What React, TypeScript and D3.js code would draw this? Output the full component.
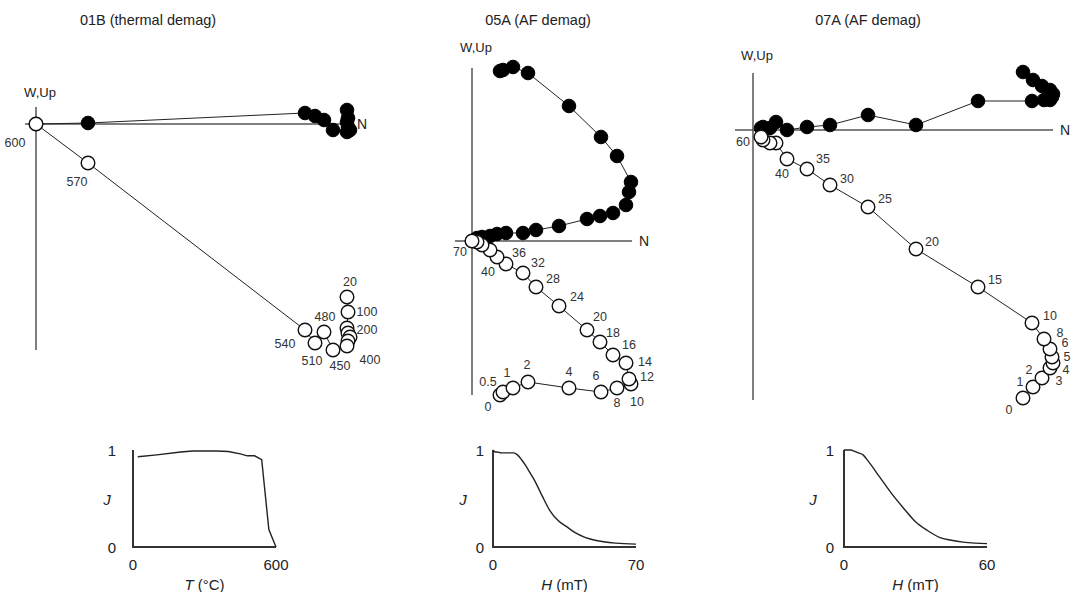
import React, { useEffect, useRef } from 'react';
import * as d3 from 'd3';

// 01B, thermal demagnetisation (°C)
const stepsB = [20, 100, 200, 250, 300, 350, 400, 450, 480, 510, 540, 570, 600];
const northB = [31.1, 31.2, 31.1, 31.2, 31.4, 31.2, 31.1, 29.7, 28.8, 27.9, 26.9, 5.2, 0];
const westB = [1.4, 0.6, 0.2, -0.3, -0.6, -0.7, -0.8, -0.6, 0.4, 0.8, 1.1, 0.1, 0];
const upB = [-17.3, -18.8, -20.4, -20.9, -21.3, -21.7, -22.2, -22.6, -20.8, -21.9, -20.6, -3.9, 0];
const jB = [0.93, 0.95, 0.98, 0.99, 0.99, 0.99, 0.985, 0.96, 0.94, 0.94, 0.9, 0.18, 0];
const shownB = [20, 100, 200, 400, 450, 480, 510, 540, 570, 600];
const nudgeB = [[3, -15], [19, 0], [20, 2], [0, 0], [0, 0], [0, 0], [23, 14], [7, 16], [1, -15], [-3, 18], [-20, 14], [-11, 19], [-21, 19]];

// 05A, AF demagnetisation (mT)
const stepsA = [0, 0.5, 1, 2, 4, 6, 8, 10, 12, 14, 16, 18, 20, 24, 28, 32, 36, 40, 45, 50, 60, 70];
const northA = [2.8, 3.1, 4.1, 5.6, 9.7, 12.9, 14.5, 15.9, 15.7, 15.4, 14.1, 12.8, 11.5, 8.7, 6.4, 5.1, 3.4, 2.5, 1.8, 1.0, 0.5, 0];
const westA = [17.0, 17.1, 17.4, 16.8, 13.5, 10.4, 8.5, 5.9, 4.9, 3.6, 2.8, 2.5, 2.2, 1.5, 1.1, 0.8, 0.8, 0.7, 0.5, 0.4, 0.3, 0];
const upA = [-15.4, -15.1, -14.7, -14.1, -14.7, -15.1, -14.7, -14.3, -13.8, -12.2, -11.4, -10.1, -8.9, -6.5, -4.6, -3.2, -2.3, -1.6, -0.9, -0.4, -0.1, 0];
const jA = [1.0, 0.99, 0.98, 0.98, 0.97, 0.97, 0.97, 0.97, 0.95, 0.9, 0.84, 0.77, 0.7, 0.53, 0.37, 0.27, 0.21, 0.15, 0.1, 0.07, 0.04, 0.03];
const shownA = [0, 0.5, 1, 2, 4, 6, 8, 10, 12, 14, 16, 18, 20, 24, 28, 32, 36, 40, 70];
const nudgeA = [[-12, 12], [-15, -10], [-6, -15], [-1, -17], [0, -16], [-5, -16], [0, 15], [6, 18], [18, -2], [19, -1], [16, -10], [13, -9], [13, -13], [18, -9], [17, -8], [15, -10], [13, -11], [-9, 15], [0, 0], [0, 0], [0, 0], [-12, 11]];

// 07A, AF demagnetisation (mT)
const stepsC = [0, 1, 2, 3, 4, 5, 6, 8, 10, 15, 20, 25, 30, 35, 40, 45, 50, 55, 60];
const northC = [27.0, 28.0, 28.9, 29.7, 30.0, 29.9, 29.7, 29.1, 27.9, 22.5, 16.3, 11.5, 7.7, 5.4, 3.4, 2.3, 1.7, 1.0, 0.8];
const westC = [5.8, 5.0, 4.4, 4.0, 3.6, 3.3, 3.0, 3.0, 2.9, 2.9, 0.5, 1.5, 0.5, 0.3, 0.0, 0.8, 0.2, 0.3, 0.2];
const upC = [-26.8, -25.7, -24.8, -23.8, -23.3, -22.7, -21.9, -20.9, -19.3, -15.7, -11.9, -7.7, -5.5, -3.9, -2.9, -1.3, -1.3, -1.0, -0.7];
const jC = [1.0, 1.0, 1.0, 1.0, 0.99, 0.98, 0.97, 0.95, 0.89, 0.72, 0.55, 0.4, 0.26, 0.17, 0.1, 0.07, 0.05, 0.04, 0.035];
const shownC = [0, 1, 2, 3, 4, 5, 6, 8, 10, 15, 20, 25, 30, 35, 40, 60];
const nudgeC = [[-14, 12], [-13, -5], [-13, -8], [9, 13], [13, 7], [15, 0], [15, -6], [16, -6], [18, -7], [17, -7], [16, -7], [17, -8], [17, -6], [16, -10], [-5, 15], [0, 0], [0, 0], [0, 0], [-18, 5]];

const panels = [
  {
    title: '01B (thermal demag)', titleX: 148,
    ox: 36, oy: 124, axisN: [-1.1, 31.4], axisV: [1.7, -22.6], wUpDy: -10,
    steps: stepsB, north: northB, west: westB, up: upB, j: jB, shown: shownB, nudge: nudgeB,
    jx: [133, 276], jMax: 600, tickDx: -21, jDx: -26, xVar: 'T', xUnit: ' (°C)', smooth: false,
  },
  {
    title: '05A (AF demag)', titleX: 538,
    ox: 472, oy: 241, axisN: [-1.7, 16.0], axisV: [17.3, -15.4], wUpDy: -16,
    steps: stepsA, north: northA, west: westA, up: upA, j: jA, shown: shownA, nudge: nudgeA,
    jx: [493, 636], jMax: 70, tickDx: -13, jDx: -30, xVar: 'H', xUnit: ' (mT)', smooth: true,
  },
  {
    title: '07A (AF demag)', titleX: 868,
    ox: 753, oy: 130, axisN: [-1.8, 30.0], axisV: [5.7, -27.0], wUpDy: -13,
    steps: stepsC, north: northC, west: westC, up: upC, j: jC, shown: shownC, nudge: nudgeC,
    jx: [844, 987], jMax: 60, tickDx: -14, jDx: -31, xVar: 'H', xUnit: ' (mT)', smooth: true,
  },
];

const FONT = '"Liberation Sans", Arial, Helvetica, sans-serif';

export default function App() {
  const ref = useRef<SVGSVGElement>(null);

  useEffect(() => {
    const svg = d3.select(ref.current);
    svg.selectAll('*').remove();
    svg.attr('font-family', FONT);

    panels.forEach((p) => {
      const g = svg.append('g');
      // 10 px per unit
      const x = d3.scaleLinear().domain([0, 10]).range([p.ox, p.ox + 100]);
      const y = d3.scaleLinear().domain([0, 10]).range([p.oy, p.oy - 100]);

      g.append('text')
        .attr('x', p.titleX).attr('y', 25)
        .attr('text-anchor', 'middle')
        .attr('font-size', 14.5).attr('fill', '#222')
        .text(p.title);

      // axes
      g.append('line')
        .attr('x1', x(p.axisN[0])).attr('x2', x(p.axisN[1]))
        .attr('y1', y(0)).attr('y2', y(0))
        .attr('stroke', '#555').attr('stroke-width', 1.5);
      g.append('line')
        .attr('x1', x(0)).attr('x2', x(0))
        .attr('y1', y(p.axisV[0])).attr('y2', y(p.axisV[1]))
        .attr('stroke', '#555').attr('stroke-width', 1.5);
      g.append('text')
        .attr('x', x(p.axisN[1]) + 7).attr('y', y(0) + 5)
        .attr('font-size', 14).attr('fill', '#222')
        .text('N');
      g.append('text')
        .attr('x', x(0) + 4).attr('y', y(p.axisV[0]) + p.wUpDy)
        .attr('text-anchor', 'middle')
        .attr('font-size', 13).attr('fill', '#222')
        .text('W,Up');

      const idx = d3.range(p.steps.length);
      const line = d3.line<number>();

      // horizontal projection (filled)
      g.append('path')
        .attr('d', line(idx.map((i) => [x(p.north[i]), y(p.west[i])])))
        .attr('fill', 'none').attr('stroke', '#222').attr('stroke-width', 1);
      g.selectAll('.hz')
        .data(idx)
        .join('circle')
        .attr('cx', (i) => x(p.north[i]))
        .attr('cy', (i) => y(p.west[i]))
        .attr('r', 6.8)
        .attr('fill', '#000')
        .attr('stroke', '#000');

      // vertical projection (open)
      g.append('path')
        .attr('d', line(idx.map((i) => [x(p.north[i]), y(p.up[i])])))
        .attr('fill', 'none').attr('stroke', '#222').attr('stroke-width', 1);
      g.selectAll('.vt')
        .data(idx)
        .join('circle')
        .attr('class', 'vt')
        .attr('cx', (i) => x(p.north[i]))
        .attr('cy', (i) => y(p.up[i]))
        .attr('r', 6.8)
        .attr('fill', '#fff')
        .attr('stroke', '#111')
        .attr('stroke-width', 1.4);

      g.selectAll('.lbl')
        .data(idx.filter((i) => p.shown.includes(p.steps[i])))
        .join('text')
        .attr('class', 'lbl')
        .attr('x', (i) => x(p.north[i]) + p.nudge[i][0])
        .attr('y', (i) => y(p.up[i]) + p.nudge[i][1])
        .attr('text-anchor', 'middle')
        .attr('dominant-baseline', 'central')
        .attr('font-size', 12.5)
        .attr('fill', '#333')
        .text((i) => String(p.steps[i]));

      // normalised intensity plot
      const jxs = d3.scaleLinear().domain([0, p.jMax]).range(p.jx);
      const jys = d3.scaleLinear().domain([0, 1]).range([547, 450]);
      const jg = svg.append('g');
      jg.append('path')
        .attr('d', `M${jxs(0)},${jys(1)}V${jys(0)}H${jxs(p.jMax)}`)
        .attr('fill', 'none').attr('stroke', '#333').attr('stroke-width', 2);
      const jl = d3.line<number>()
        .x((i) => jxs(p.steps[i]))
        .y((i) => jys(p.j[i]))
        .curve(p.smooth ? d3.curveMonotoneX : d3.curveLinear);
      jg.append('path')
        .attr('d', jl(idx))
        .attr('fill', 'none').attr('stroke', '#222').attr('stroke-width', 1.4);

      const tk = (tx: number, ty: number, s: string) =>
        jg.append('text')
          .attr('x', tx).attr('y', ty)
          .attr('text-anchor', 'middle').attr('dominant-baseline', 'central')
          .attr('font-size', 15).attr('fill', '#222')
          .text(s);
      tk(jxs(0) + p.tickDx, jys(1), '1');
      tk(jxs(0) + p.tickDx, jys(0), '0');
      tk(jxs(0), jys(0) + 17, '0');
      tk(jxs(p.jMax), jys(0) + 17, String(p.jMax));
      tk(jxs(0) + p.jDx, jys(0.5), '')
        .append('tspan').attr('font-style', 'italic').text('J');
      const xl = tk((p.jx[0] + p.jx[1]) / 2, jys(0) + 37, '');
      xl.append('tspan').attr('font-style', 'italic').text(p.xVar);
      xl.append('tspan').text(p.xUnit);
    });
  }, []);

  return (
    <svg
      ref={ref}
      width={1073}
      height={592}
      style={{ position: 'absolute', left: 0, top: 0, background: '#fff' }}
    />
  );
}
